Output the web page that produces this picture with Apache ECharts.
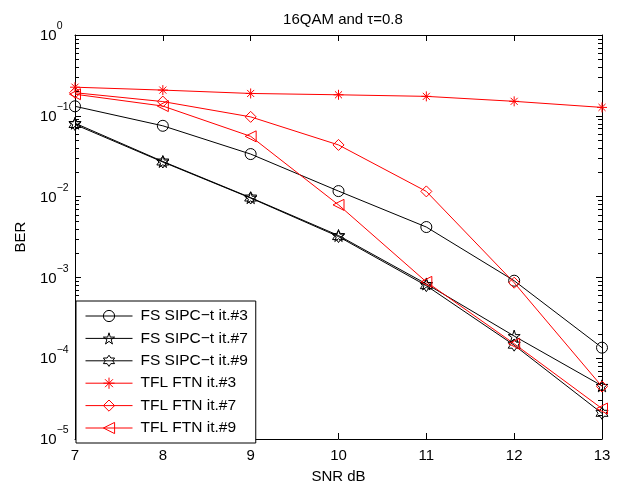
<!DOCTYPE html>
<html><head><meta charset="utf-8">
<script src="https://cdn.jsdelivr.net/npm/echarts@6/dist/echarts.min.js"></script>
<style>html,body{margin:0;padding:0;background:#fff}#c{width:620px;height:489px}</style>
</head><body><div id="c"></div>
<script>
const snr = [7, 8, 9, 10, 11, 12, 13];
const fsSipc3 = [0.131, 0.0752, 0.0336, 0.0117, 0.0042, 0.00091, 0.000135];
const fsSipc7 = [0.081, 0.0272, 0.0097, 0.0033, 0.00083, 0.000188, 0.0000455];
const fsSipc9 = [0.078, 0.0268, 0.0096, 0.0032, 0.00079, 0.000145, 0.0000208];
const tfl3 = [0.226, 0.208, 0.189, 0.182, 0.174, 0.151, 0.127];
const tfl7 = [0.193, 0.150, 0.097, 0.0436, 0.0116, 0.00086, 0.0000446];
const tfl9 = [0.185, 0.132, 0.0557, 0.0079, 0.00088, 0.000151, 0.0000238];
const seriesNames = ['FS SIPC−t it.#3', 'FS SIPC−t it.#7', 'FS SIPC−t it.#9', 'TFL FTN it.#3', 'TFL FTN it.#7', 'TFL FTN it.#9'];
const xTicks = [7, 8, 9, 10, 11, 12, 13];
const yDecades = [-5, -4, -3, -2, -1, 0];

function starPath(n, inner) {
  let d = '';
  for (let i = 0; i < 2 * n; i++) {
    const r = i % 2 === 0 ? 1 : inner;
    const a = -Math.PI / 2 + i * Math.PI / n;
    d += (i === 0 ? 'M' : 'L') + (r * Math.cos(a)).toFixed(3) + ',' + (r * Math.sin(a)).toFixed(3);
  }
  return 'path://' + d + 'Z';
}
const SYM = {
  circle: 'circle',
  penta: starPath(5, 0.382),
  hexa: starPath(6, 0.577),
  aster: 'path://M0,-1L0,1M-1,0L1,0M-0.707,-0.707L0.707,0.707M-0.707,0.707L0.707,-0.707',
  diamond: 'path://M0,-1L1,0L0,1L-1,0Z',
  tri: 'path://M-1,0L1,-1L1,1Z'
};
const FONT = 'Liberation Sans, Arial, sans-serif';
const CLEAR = 'rgba(0,0,0,0)';
const styles = [
  { c: '#000', s: SYM.circle, z: 11 },
  { c: '#000', s: SYM.penta, z: 12 },
  { c: '#000', s: SYM.hexa, z: 12 },
  { c: '#ff0000', s: SYM.aster, z: 10 },
  { c: '#ff0000', s: SYM.diamond, z: 11 },
  { c: '#ff0000', s: SYM.tri, z: 11 }
];
const allVals = [fsSipc3, fsSipc7, fsSipc9, tfl3, tfl7, tfl9];

function mk(i) {
  const st = styles[i];
  return {
    name: seriesNames[i], type: 'line',
    data: snr.map((x, j) => [x, allVals[i][j]]),
    symbol: st.s, symbolSize: st.z, showSymbol: true,
    itemStyle: { color: CLEAR, borderColor: st.c, borderWidth: 1 },
    lineStyle: { color: st.c, width: 1 },
    emphasis: { disabled: true },
    animation: false, z: 3
  };
}

const chart = echarts.init(document.getElementById('c'), null, { renderer: 'canvas' });
const axisCommon = {
  axisLine: { show: true, lineStyle: { color: '#000', width: 1 } },
  axisTick: { show: true, inside: true, length: 6, lineStyle: { color: '#000' } },
  splitLine: { show: false }
};
chart.setOption({
  animation: false,
  backgroundColor: '#fff',
  title: {
    text: '16QAM and τ=0.8', left: 338, top: 7, textAlign: 'center',
    textStyle: { fontFamily: FONT, fontSize: 15, fontWeight: 'normal', color: '#000' }
  },
  grid: { left: 75, right: 18, top: 35, bottom: 46, containLabel: false },
  legend: {
    orient: 'vertical', left: 76, top: 301,
    data: seriesNames.map((n, i) => ({
      name: n,
      itemStyle: { color: CLEAR, borderColor: styles[i].c, borderWidth: 1 },
      lineStyle: { color: styles[i].c, width: 1 }
    })),
    backgroundColor: '#fff', borderColor: '#000', borderWidth: 1, borderRadius: 0,
    padding: [7, 8, 7, 9],
    itemWidth: 47, itemHeight: 14, itemGap: 6.4,
    textStyle: { fontFamily: FONT, fontSize: 15.5, color: '#000', padding: [0, 0, 0, 3] },
    selectedMode: false, z: 10
  },
  xAxis: [
    Object.assign({}, axisCommon, {
      type: 'value', min: 7, max: 13, interval: 1, position: 'bottom',
      name: 'SNR dB', nameLocation: 'middle', nameGap: 30,
      nameTextStyle: { fontFamily: FONT, fontSize: 15, color: '#000' },
      axisLabel: { fontFamily: FONT, fontSize: 15, color: '#000', margin: 9,
        formatter: v => xTicks.includes(v) ? String(v) : '' }
    }),
    Object.assign({}, axisCommon, {
      type: 'value', min: 7, max: 13, interval: 1, position: 'top',
      axisLabel: { show: false }
    })
  ],
  yAxis: [
    Object.assign({}, axisCommon, {
      type: 'log', logBase: 10, min: 1e-5, max: 1, splitNumber: 5, position: 'left',
      name: 'BER', nameLocation: 'middle', nameGap: 47, nameRotate: 90,
      nameTextStyle: { fontFamily: FONT, fontSize: 15, color: '#000' },
      axisLabel: {
        margin: 35, align: 'left', color: '#000',
        formatter: v => {
          const e = Math.round(Math.log10(v));
          if (!yDecades.includes(e)) return '';
          return '{b|10}{s|' + (e < 0 ? '−' + (-e) : String(e)) + '}';
        },
        rich: {
          b: { fontFamily: FONT, fontSize: 15, lineHeight: 15, color: '#000', verticalAlign: 'middle', padding: [2, 0, 0, 0] },
          s: { fontFamily: FONT, fontSize: 10.5, lineHeight: 10, color: '#000', verticalAlign: 'middle', padding: [0, 0, 17, 0] }
        }
      }
    }),
    Object.assign({}, axisCommon, {
      type: 'log', logBase: 10, min: 1e-5, max: 1, splitNumber: 5, position: 'right',
      axisLabel: { show: false }
    })
  ],
  series: [0, 1, 2, 3, 4, 5].map(mk)
});

// minor log ticks (2..9 in each decade) on left and right, placed via the axis scale
const gridRect = { l: 75, r: 620 - 18 };
const minorEls = [];
for (let d = -5; d < 0; d++) {
  for (let k = 2; k <= 9; k++) {
    const v = k * Math.pow(10, d);
    const y = Math.round(chart.convertToPixel({ yAxisIndex: 0 }, v)) + 0.5;
    minorEls.push({ type: 'line', shape: { x1: gridRect.l, y1: y, x2: gridRect.l + 4, y2: y }, style: { stroke: '#000', lineWidth: 1 }, silent: true, z: 1 });
    minorEls.push({ type: 'line', shape: { x1: gridRect.r - 4, y1: y, x2: gridRect.r, y2: y }, style: { stroke: '#000', lineWidth: 1 }, silent: true, z: 1 });
  }
}
chart.setOption({ graphic: minorEls });
</script>
</body></html>
